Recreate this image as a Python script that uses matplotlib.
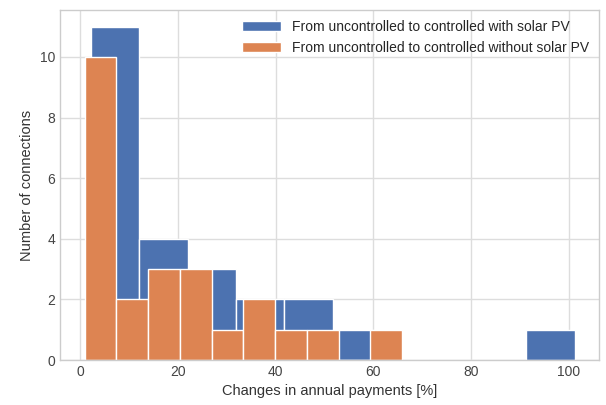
import matplotlib
matplotlib.use("Agg")
import matplotlib.pyplot as plt
import numpy as np

# histogram counts (10 bins each)
with_pv_range = (2.2, 101.2)
with_pv_counts = [11, 4, 3, 2, 2, 1, 0, 0, 0, 1]

without_pv_range = (0.9, 65.9)
without_pv_counts = [10, 2, 3, 3, 1, 2, 1, 1, 0, 1]

labels = ["From uncontrolled to controlled with solar PV",
          "From uncontrolled to controlled without solar PV"]
colors = ["#4C72B0", "#DD8452"]

plt.style.use("seaborn-v0_8-whitegrid")
plt.rcParams["font.family"] = ["Liberation Sans", "DejaVu Sans"]

fig = plt.figure(figsize=(6.06, 4.05), dpi=100)
ax = fig.add_axes([60 / 606, 45 / 405, 539 / 606, 350 / 405])

for rng, counts, lab, col in [(with_pv_range, with_pv_counts, labels[0], colors[0]),
                              (without_pv_range, without_pv_counts, labels[1], colors[1])]:
    edges = np.linspace(rng[0], rng[1], len(counts) + 1)
    centers = (edges[:-1] + edges[1:]) / 2
    ax.hist(centers, bins=edges, weights=counts, color=col, label=lab,
            edgecolor="white", linewidth=1.0)

ax.set_xlabel("Changes in annual payments [%]", fontsize=10.5, color="#333333")
ax.set_ylabel("Number of connections", fontsize=10.5, color="#333333")
ax.tick_params(labelsize=10, colors="#444444")
ax.set_yticks([0, 2, 4, 6, 8, 10])
for s in ax.spines.values():
    s.set_visible(True)
    s.set_color("#cccccc")
ax.grid(True, color="#dddddd", linewidth=1.0)
ax.legend(loc="upper right", fontsize=10, frameon=False, handlelength=2.8,
          borderaxespad=0.3)

fig.savefig("out.png", dpi=100)
